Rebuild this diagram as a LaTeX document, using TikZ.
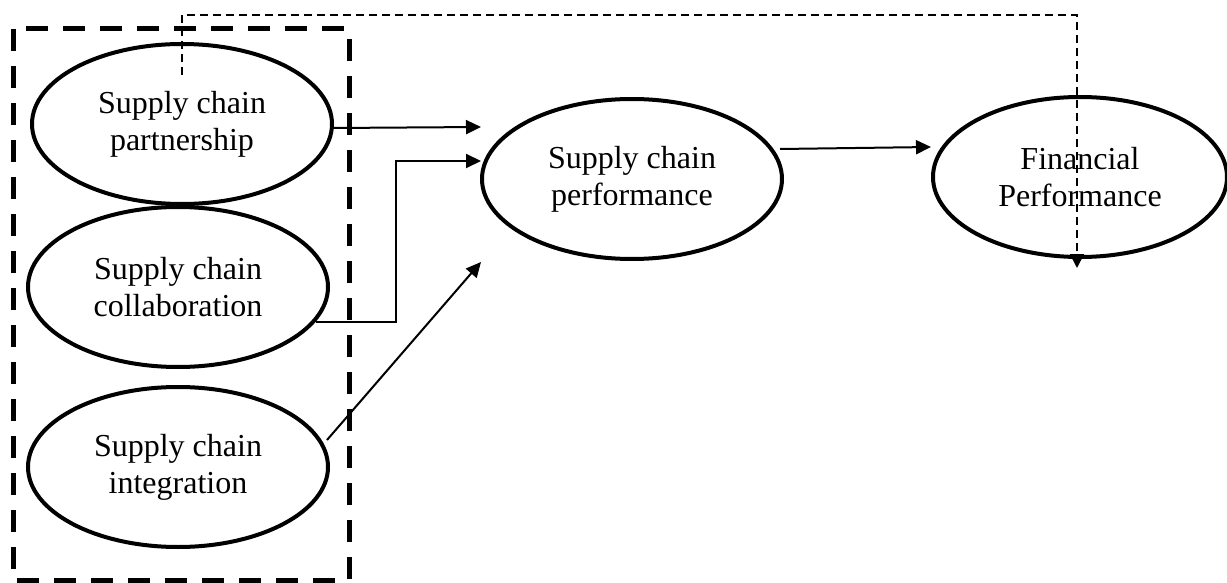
\documentclass[tikz,border=0pt]{standalone}
\usepackage{fontspec}
\setmainfont{Liberation Serif}
\usetikzlibrary{arrows.meta,shapes.geometric}
\tikzset{
  oval/.style={draw, ellipse, line width=2pt, inner sep=0pt, minimum width=150pt, minimum height=80pt, align=center, font=\fontsize{16}{18.5}\selectfont},
  arr/.style={line width=1pt, -{Triangle[length=7.5pt,width=7pt]}},
  bigdash/.style={line width=2.5pt, dash pattern=on 11pt off 7.5pt},
  smalldash/.style={line width=1pt, dash pattern=on 4pt off 2.5pt}
}
\begin{document}
\begin{tikzpicture}[x=0.5pt,y=-0.5pt]
\useasboundingbox (0,0) rectangle (1227,583);
% grouping box
\draw[bigdash] (13,29) rectangle (349,580);
% ellipses
\node[oval] (p) at (182,124) {Supply chain\\partnership};
\node[oval] (c) at (178,287) {Supply chain\\collaboration};
\node[oval] (i) at (178,467) {Supply chain\\integration};
\node[oval] (sp) at (632,179) {Supply chain\\performance};
\node[oval, minimum width=147pt] (f) at (1080,177) {Financial\\Performance};
% connector end points
\coordinate (pe) at (333,128);
\coordinate (pt) at (481,127);
\coordinate (ce) at (316,322);
\coordinate (cb) at (396,322);
\coordinate (cu) at (396,161);
\coordinate (ct) at (481,161);
\coordinate (ie) at (327,440);
\coordinate (it) at (481,262);
\coordinate (se) at (780,149);
\coordinate (ft) at (931,147);
\coordinate (ds) at (182,75);
\coordinate (d1) at (182,15);
\coordinate (d2) at (1077,15);
\coordinate (dt) at (1077,268);
% arrows
\draw[arr] (pe) -- (pt);
\draw[arr] (ce) -- (cb) -- (cu) -- (ct);
\draw[arr] (ie) -- (it);
\draw[arr] (se) -- (ft);
\draw[smalldash, -{Triangle[length=7pt,width=7pt]}] (ds) -- (d1) -- (d2) -- (dt);
\end{tikzpicture}
\end{document}
